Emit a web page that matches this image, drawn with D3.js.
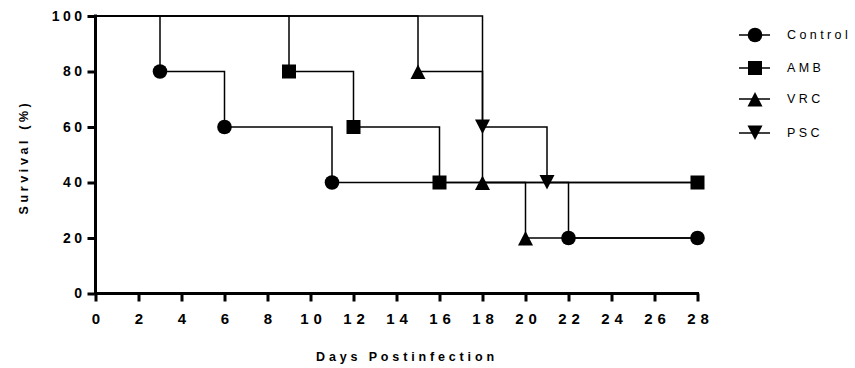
<!DOCTYPE html>
<html><head><meta charset="utf-8">
<script src="https://cdn.jsdelivr.net/npm/d3@7"></script>
<style>
body{margin:0;background:#fff;}
svg{display:block;font-family:Arial,"Liberation Sans",sans-serif;}
</style></head>
<body>
<svg id="chart" width="855" height="368"></svg>
<script>
// ---- data ----
const seriesNames = ["Control","AMB","VRC","PSC"];
const seriesShapes = ["circle","square","triangleUp","triangleDown"];
// step points: [day, survival%]
const controlSteps = [[0,100],[3,80],[6,60],[11,40],[22,20],[28,20]];
const ambSteps     = [[0,100],[9,80],[12,60],[16,40],[28,40]];
const vrcSteps     = [[0,100],[15,80],[18,40],[20,20],[28,20]];
const pscSteps     = [[0,100],[18,60],[21,40],[28,40]];
const controlMarks = [[3,80],[6,60],[11,40],[22,20],[28,20]];
const ambMarks     = [[9,80],[12,60],[16,40],[28,40]];
const vrcMarks     = [[15,80],[18,40],[20,20]];
const pscMarks     = [[18,60],[21,40]];
const xTicks = [0,2,4,6,8,10,12,14,16,18,20,22,24,26,28];
const yTicks = [0,20,40,60,80,100];

const allSteps = [controlSteps, ambSteps, vrcSteps, pscSteps];
const allMarks = [controlMarks, ambMarks, vrcMarks, pscMarks];

const svg = d3.select("#chart");
const x = d3.scaleLinear().domain([0,28]).range([95.5,697.5]);
const y = d3.scaleLinear().domain([0,100]).range([293.5,16]);

function sym(g, shape, cx, cy){
  if(shape==="circle"){
    g.append("circle").attr("cx",cx).attr("cy",cy).attr("r",7.3).attr("fill","#000");
  } else if(shape==="square"){
    g.append("rect").attr("x",cx-7).attr("y",cy-7).attr("width",14).attr("height",14).attr("fill","#000");
  } else if(shape==="triangleUp"){
    g.append("path").attr("d",`M${cx},${cy-7}L${cx+7.5},${cy+7.5}L${cx-7.5},${cy+7.5}Z`).attr("fill","#000");
  } else {
    g.append("path").attr("d",`M${cx},${cy+7}L${cx+7.5},${cy-7.5}L${cx-7.5},${cy-7.5}Z`).attr("fill","#000");
  }
}

const line = d3.line().x(d=>x(d[0])).y(d=>y(d[1])).curve(d3.curveStepAfter);
const linesG = svg.append("g");
allSteps.forEach(s=>{
  linesG.append("path").attr("d",line(s)).attr("fill","none").attr("stroke","#000").attr("stroke-width",1.5);
});

const xAxis = d3.axisBottom(x).tickValues(xTicks).tickSize(8).tickSizeOuter(0);
const yAxis = d3.axisLeft(y).tickValues(yTicks).tickSize(8).tickSizeOuter(0);
const gx = svg.append("g").attr("transform",`translate(0,${y(0)})`).call(xAxis);
const gy = svg.append("g").attr("transform",`translate(${x(0)},0)`).call(yAxis);
[gx,gy].forEach(g=>{
  g.select(".domain").attr("stroke","#000").attr("stroke-width",3);
  g.selectAll(".tick line").attr("stroke","#000").attr("stroke-width",3);
  g.selectAll(".tick text").attr("fill","#000").attr("font-weight","bold")
   .attr("font-family",'Arial,"Liberation Sans",sans-serif');
});
gx.select(".domain").attr("d",`M${x(0)-1.5},0H${x(28)+1.5}`);
gy.select(".domain").attr("d",`M0,${y(0)+1.5}V${y(100)-1.5}`);
gx.selectAll(".tick text").attr("font-size",15).attr("letter-spacing","5px").attr("dy","1.32em")
  .attr("dx","2.5px");
gy.selectAll(".tick text").attr("font-size",14).attr("letter-spacing","3.5px").attr("x",-10).attr("dx","0px");

const mG = svg.append("g");
allMarks.forEach((m,i)=>{
  m.forEach(p=>sym(mG, seriesShapes[i], x(p[0]), y(p[1])));
});

svg.append("text").attr("x",407).attr("y",360.7).attr("text-anchor","middle")
  .attr("font-size",12.5).attr("font-weight","bold").attr("letter-spacing","3.85px").text("Days Postinfection");
svg.append("text").attr("transform","translate(27.5,157) rotate(-90)").attr("text-anchor","middle")
  .attr("font-size",12.5).attr("font-weight","bold").attr("letter-spacing","3.6px").text("Survival (%)");

const legY = [35,68,99,133];
const lg = svg.append("g");
seriesNames.forEach((n,i)=>{
  lg.append("line").attr("x1",739).attr("x2",770).attr("y1",legY[i]).attr("y2",legY[i]).attr("stroke","#000").attr("stroke-width",1.5);
  sym(lg, seriesShapes[i], 755, legY[i]);
  lg.append("text").attr("x",787).attr("y",legY[i]).attr("dy","0.35em").attr("font-size",12.5)
    .attr("letter-spacing","3.4px").text(n);
});
</script>
</body></html>
